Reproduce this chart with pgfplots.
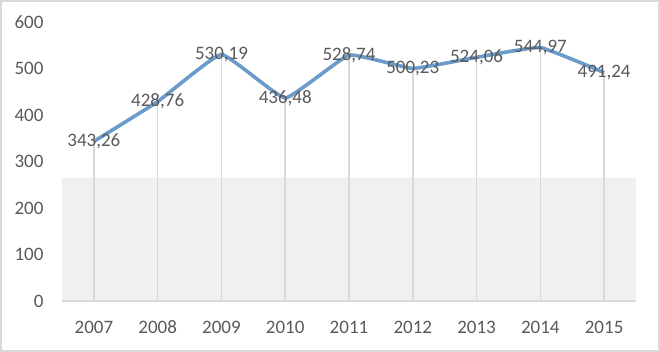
\documentclass[border=0pt]{standalone}
\usepackage{pgfplots}
\pgfplotsset{compat=1.18}
\usepackage{fontspec}
\setmainfont{Carlito}
\definecolor{txt}{HTML}{595959}
\definecolor{gridgray}{HTML}{D9D9D9}
\definecolor{band}{HTML}{F0F0F0}
\definecolor{lineblue}{HTML}{6A9BCB}
\begin{document}
\begin{tikzpicture}
\useasboundingbox (-62bp,-51bp) rectangle (598bp,301bp);
\draw[gridgray, line width=1.6bp] (-61.2bp,-50.2bp) rectangle (597.2bp,300.2bp);
\begin{axis}[
  scale only axis,
  width=574bp, height=279bp,
  xmin=-0.5, xmax=8.5,
  ymin=0, ymax=600,
  ytick={0,100,...,600},
  xtick={0,...,8},
  xticklabels={2007,2008,2009,2010,2011,2012,2013,2014,2015},
  axis line style={draw=none},
  axis x line*=bottom,
  axis y line*=left,
  major tick length=0pt,
  tick label style={font=\fontsize{19bp}{20bp}\selectfont, text=txt},
  yticklabel style={xshift=-15bp},
  xticklabel style={anchor=base, yshift=-32bp, text depth=0pt},
  /pgf/number format/assume math mode=true,
  /pgf/number format/1000 sep={},
  clip=false,
]
\addplot[fill=band, draw=none] coordinates {(-0.5,0) (-0.5,265) (8.5,265) (8.5,0)} \closedcycle;
\draw[gridgray, line width=1.5bp] (axis cs:-0.5,0) -- (axis cs:8.5,0);
\addplot[ycomb, draw=gridgray, line width=1.5bp, mark=none] coordinates {
(0,343.26) (1,428.76) (2,530.19) (3,436.48) (4,528.74) (5,500.23) (6,524.06) (7,544.97) (8,491.24)};
\addplot[lineblue, line width=3.6bp, smooth, tension=0.2, mark=none,
  nodes near coords,
  nodes near coords align={center},
  every node near coord/.append style={anchor=center, text=txt, font=\fontsize{19bp}{20bp}\selectfont,
    /pgf/number format/.cd, fixed, fixed zerofill, precision=2, use comma, 1000 sep={}, assume math mode=true},
] coordinates {
(0,343.26) (1,428.76) (2,530.19) (3,436.48) (4,528.74) (5,500.23) (6,524.06) (7,544.97) (8,491.24)};
\end{axis}
\end{tikzpicture}
\end{document}
